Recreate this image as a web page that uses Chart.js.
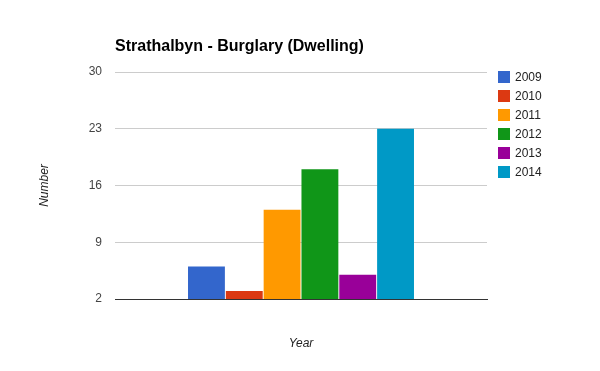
<!DOCTYPE html>
<html>
<head>
<meta charset="utf-8">
<script src="https://cdn.jsdelivr.net/npm/chart.js@4"></script>
<style>
  html, body { margin: 0; padding: 0; background: #fff; }
  #wrap { width: 600px; height: 371px; position: relative; }
</style>
</head>
<body>
<div id="wrap"><canvas id="burglary_chart" width="600" height="371"></canvas></div>
<script>
var chartTitle = 'Strathalbyn - Burglary (Dwelling)';
var years = ['2009', '2010', '2011', '2012', '2013', '2014'];
var counts = [6, 3, 13, 18, 5, 23];
var colours = ['#3366cc', '#dc3912', '#ff9900', '#109618', '#990099', '#0099c6'];
var yTicks = [2, 9, 16, 23, 30];

var fontFamily = '"Liberation Sans", Arial, sans-serif';

// one category, one dataset per year (like the google chart)
var datasets = years.map(function(y, i){
  return {
    label: y,
    data: [counts[i]],
    backgroundColor: colours[i],
    borderWidth: 0,
    categoryPercentage: 0.61,
    barPercentage: 0.975
  };
});

var textPlugin = {
  id: 'textPlugin',
  afterDraw: function(chart){
    var ctx = chart.ctx;
    var area = chart.chartArea;
    ctx.save();
    // title
    ctx.fillStyle = '#000';
    ctx.font = 'bold 16px ' + fontFamily;
    ctx.textAlign = 'left';
    ctx.textBaseline = 'alphabetic';
    ctx.fillText(chartTitle, area.left, 51);

    // legend
    ctx.font = '12px ' + fontFamily;
    ctx.textBaseline = 'middle';
    chart.data.datasets.forEach(function(ds, i){
      var top = 71 + i * 19;
      ctx.fillStyle = ds.backgroundColor;
      ctx.fillRect(498, top, 12, 12);
      ctx.fillStyle = '#222';
      ctx.fillText(ds.label, 515, top + 6.5);
    });

    // axis titles
    ctx.font = 'italic 12px ' + fontFamily;
    ctx.fillStyle = '#222';
    ctx.textAlign = 'center';
    ctx.fillText('Year', (area.left + area.right) / 2, 344);
    ctx.translate(45, (area.top + area.bottom) / 2);
    ctx.rotate(-Math.PI / 2);
    ctx.fillText('Number', 0, 0);
    ctx.restore();
  }
};

var myChart = new Chart('burglary_chart', {
  type: 'bar',
  data: {
    labels: [''],
    datasets: datasets
  },
  options: {
    responsive: false,
    animation: false,
    devicePixelRatio: 1,
    layout: { padding: { left: 0, top: 72, right: 113, bottom: 72 } },
    plugins: {
      legend: { display: false },
      title: { display: false },
      tooltip: { enabled: false }
    },
    scales: {
      x: {
        grid: { display: false, drawTicks: false },
        border: { display: true, color: '#333', width: 1 },
        ticks: { display: false },
        afterFit: function(scale){ scale.height = 0; }
      },
      y: {
        min: yTicks[0],
        max: yTicks[yTicks.length - 1],
        afterBuildTicks: function(scale){
          scale.ticks = yTicks.map(function(v){ return { value: v }; });
        },
        grid: { color: '#cccccc', drawTicks: false },
        border: { display: false },
        ticks: {
          padding: 13,
          color: '#444',
          font: { family: fontFamily, size: 12 }
        },
        afterFit: function(scale){ scale.width = 115; }
      }
    }
  },
  plugins: [textPlugin]
});
</script>
</body>
</html>
